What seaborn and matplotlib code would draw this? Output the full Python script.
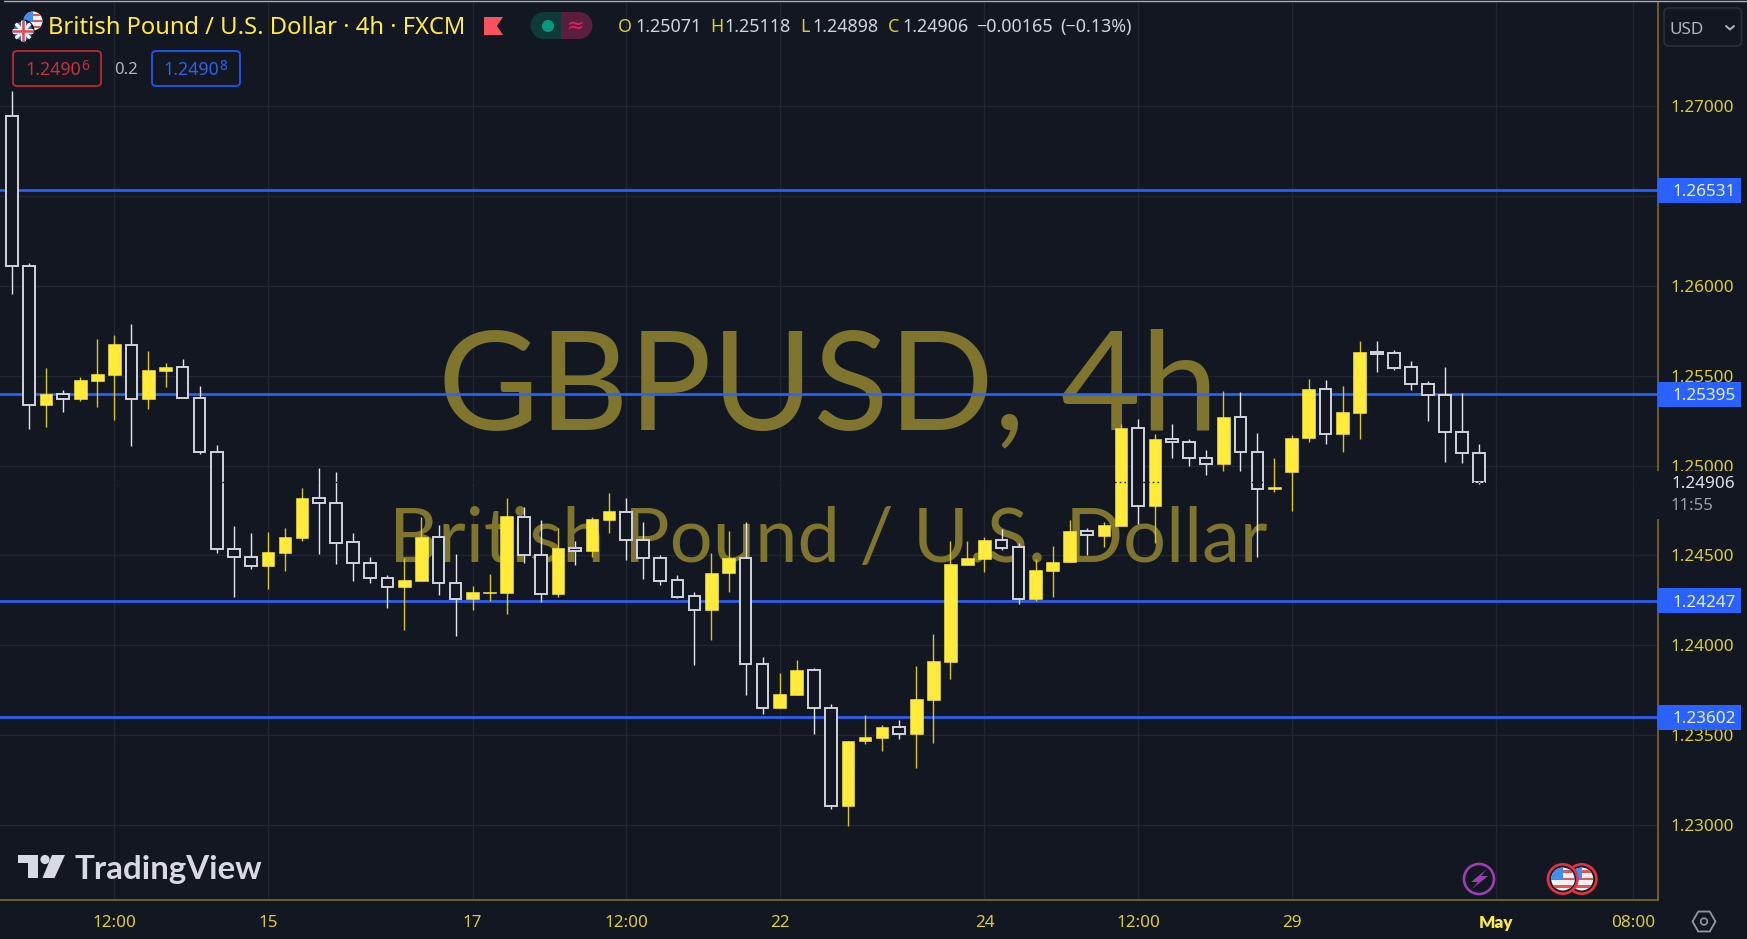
import numpy as np
import pandas as pd
import matplotlib
matplotlib.use("Agg")
import matplotlib.pyplot as plt
from matplotlib.patches import Circle, Rectangle, FancyBboxPatch, Polygon
from matplotlib.transforms import blended_transform_factory
import seaborn as sns

opens = [1.26944,1.26111,1.25334,1.25397,1.25368,1.25470,1.25503,1.25672,1.25368,1.25523,
         1.25548,1.25377,1.25077,1.24538,1.24491,1.24440,1.24516,1.24595,1.24819,1.24792,
         1.24575,1.24458,1.24377,1.24325,1.24360,1.24601,1.24349,1.24258,1.24291,1.24289,
         1.24716,1.24504,1.24284,1.24540,1.24523,1.24699,1.24743,1.24586,1.24486,1.24364,
         1.24273,1.24195,1.24401,1.24484,1.23899,1.23650,1.23724,1.23865,1.23654,1.23105,
         1.23467,1.23487,1.23545,1.23508,1.23698,1.23910,1.24447,1.24482,1.24586,1.24547,
         1.24256,1.24414,1.24462,1.24634,1.24610,1.24666,1.25207,1.24775,1.25147,1.25133,
         1.25044,1.25006,1.25268,1.25077,1.24869,1.24966,1.25151,1.25425,1.25177,1.25294,
         1.25631,1.25624,1.25548,1.25453,1.25390,1.25186,1.25071]
closes = [1.26111,1.25336,1.25399,1.25370,1.25473,1.25509,1.25674,1.25370,1.25529,1.25549,
          1.25375,1.25075,1.24536,1.24490,1.24441,1.24521,1.24603,1.24819,1.24790,1.24571,
          1.24456,1.24373,1.24327,1.24364,1.24604,1.24345,1.24260,1.24295,1.24295,1.24719,
          1.24503,1.24284,1.24541,1.24523,1.24705,1.24745,1.24586,1.24484,1.24360,1.24271,
          1.24197,1.24404,1.24486,1.23897,1.23650,1.23730,1.23865,1.23650,1.23107,1.23470,
          1.23491,1.23546,1.23509,1.23704,1.23913,1.24451,1.24486,1.24588,1.24543,1.24260,
          1.24419,1.24465,1.24636,1.24612,1.24669,1.25210,1.24777,1.25147,1.25129,1.25042,
          1.25008,1.25270,1.25075,1.24871,1.24880,1.25155,1.25425,1.25177,1.25297,1.25631,
          1.25620,1.25544,1.25451,1.25390,1.25186,1.25071,1.24906]
highs = [1.27083,1.26126,1.25544,1.25420,1.25494,1.25701,1.25727,1.25787,1.25638,1.25572,
         1.25590,1.25442,1.25112,1.24664,1.24623,1.24630,1.24651,1.24875,1.24984,1.24964,
         1.24623,1.24493,1.24391,1.24488,1.24716,1.24669,1.24508,1.24330,1.24397,1.24821,
         1.24768,1.24697,1.24651,1.24582,1.24712,1.24849,1.24821,1.24684,1.24501,1.24391,
         1.24297,1.24512,1.24636,1.24684,1.23934,1.23845,1.23919,1.23873,1.23674,1.23470,
         1.23613,1.23559,1.23585,1.23887,1.24063,1.24580,1.24582,1.24603,1.24649,1.24567,
         1.24480,1.24554,1.24697,1.24651,1.24684,1.25231,1.25257,1.25175,1.25231,1.25149,
         1.25084,1.25414,1.25407,1.25183,1.25040,1.25168,1.25481,1.25475,1.25442,1.25694,
         1.25694,1.25640,1.25583,1.25468,1.25549,1.25401,1.25118]
lows = [1.25953,1.25205,1.25216,1.25299,1.25359,1.25325,1.25251,1.25108,1.25312,1.25434,
        1.25375,1.25062,1.24516,1.24271,1.24427,1.24312,1.24414,1.24582,1.24508,1.24453,
        1.24358,1.24345,1.24210,1.24086,1.24360,1.24278,1.24052,1.24195,1.24249,1.24175,
        1.24460,1.24243,1.24271,1.24447,1.24493,1.24623,1.24475,1.24367,1.24338,1.24262,
        1.23889,1.24030,1.24297,1.23724,1.23617,1.23650,1.23724,1.23506,1.23093,1.22996,
        1.23452,1.23411,1.23480,1.23317,1.23459,1.23813,1.24447,1.24406,1.24528,1.24230,
        1.24249,1.24271,1.24462,1.24501,1.24549,1.24666,1.24673,1.24571,1.25040,1.24999,
        1.24945,1.24971,1.24971,1.24490,1.24855,1.24747,1.25129,1.25121,1.25073,1.25149,
        1.25518,1.25531,1.25422,1.25246,1.25020,1.25012,1.24898]

level_prices = [1.26531, 1.25395, 1.24247, 1.23602]
level_labels = ["1.26531", "1.25395", "1.24247", "1.23602"]
price_ticks = [1.23, 1.235, 1.24, 1.245, 1.25, 1.255, 1.26, 1.265, 1.27]
price_tick_labels = ["1.23000", "1.23500", "1.24000", "1.24500", "1.25000", "1.25500", "1.26000", "", "1.27000"]
time_positions = [6, 15, 27, 36, 45, 57, 66, 75, 87, 95]
time_labels = ["12:00", "15", "17", "12:00", "22", "24", "12:00", "29", "May", "08:00"]
last_price = 1.24906
countdown = "11:55"

BG = "#131722"
YELLOW = "#ffeb3b"
YWICK = "#d8c722"
WHITE = "#d1d4dc"
BLUE = "#2962ff"
OLIVE = "#7a6f1e"
GRID = "#222630"
TICK = "#d9cf2b"
WMARK = "#7f752e"
W, H = 1747, 939

sns.set_theme(style="dark", rc={"axes.facecolor": BG, "figure.facecolor": BG})
plt.rcParams["font.family"] = ["Noto Sans", "DejaVu Sans"]

df = pd.DataFrame({"i": np.arange(len(opens)), "o": opens, "h": highs, "l": lows, "c": closes})
df["up"] = df.c >= df.o
df["top"] = df[["o", "c"]].max(axis=1)
df["bot"] = df[["o", "c"]].min(axis=1)
wicks = df.melt(id_vars=["i", "up"], value_vars=["l", "h"], value_name="p")

fig = plt.figure(figsize=(W / 100, H / 100), dpi=100)
ax = fig.add_axes([0, 1 - 900 / H, 1658 / W, 898 / H])
ax.set_facecolor(BG)

for up, col in [(True, YWICK), (False, "#e4e6ec")]:
    sns.lineplot(data=wicks[wicks.up == up], x="i", y="p", units="i", estimator=None,
                 color=col, linewidth=1.0, legend=False, ax=ax, zorder=4,
                 solid_capstyle="butt")
u = df[df.up]
d = df[~df.up]
ax.bar(u.i, u.top - u.bot, bottom=u.bot, width=0.74, color=YELLOW, edgecolor=YELLOW,
       linewidth=0.4, zorder=5)
ax.bar(d.i, d.top - d.bot, bottom=d.bot, width=0.68, color=BG, edgecolor=WHITE,
       linewidth=1.4, zorder=5)

ax.set_xlabel("")
ax.set_ylabel("")
ax.grid(False)

ax.set_yticks(price_ticks)
ax.set_yticklabels(price_tick_labels)
ax.yaxis.tick_right()
ax.set_xticks(time_positions)
ax.set_xticklabels(time_labels)
ax.set_xlim(-0.703, 96.48)
ax.set_ylim(1.27 - 794.3 / 17990, 1.27 + 103.7 / 17990)
ax.tick_params(axis="y", length=0, pad=9.3, labelsize=12.3, labelcolor=TICK)
ax.tick_params(axis="x", length=0, pad=11, labelsize=12.3, labelcolor=TICK)
ax.grid(True, color=GRID, linewidth=1.0, zorder=0)
ax.set_axisbelow(True)
for lab in ax.get_xticklabels():
    if lab.get_text() == "May":
        lab.set_family("Lato")
        lab.set_fontweight("heavy")
        lab.set_color(YELLOW)
for s in ["top", "left"]:
    ax.spines[s].set_visible(False)
for s in ["right", "bottom"]:
    ax.spines[s].set_visible(True)
    ax.spines[s].set_color(OLIVE)
    ax.spines[s].set_linewidth(1.2)

tr = blended_transform_factory(ax.transAxes, ax.transData)

# watermark
ax.text(0.4995, 1.25203, "GBPUSD, 4h", transform=tr, ha="center", va="baseline", family="Lato",
        fontsize=99.7, color=WMARK, zorder=1)
ax.text(0.4995, 1.24465, "British Pound / U.S. Dollar", transform=tr, ha="center", va="baseline", family="Lato",
        fontsize=54.6, color=WMARK, zorder=1)

# horizontal levels and price line
for p in level_prices:
    ax.axhline(p, color=BLUE, linewidth=1.9, zorder=3)
ax.axhline(last_price, color=BG, linewidth=1.0, linestyle=(0, (1.2, 2.2)), zorder=6)

# axis price labels
for p, lab in zip(level_prices, level_labels):
    ax.add_patch(Rectangle((1.0, p - 12.5 / 17990), 83 / 1658, 25 / 17990, transform=tr,
                           facecolor=BLUE, edgecolor="none", clip_on=False, zorder=8))
    ax.text(1 + 14 / 1658, p - 2 / 17990, lab, transform=tr, color="#e8edff", fontsize=12.3, ha="left",
            va="center", clip_on=False, zorder=9)
ax.add_patch(Rectangle((0.9995, last_price - 36.5 / 17990), 84 / 1658, 48 / 17990, transform=tr,
                       facecolor=BG, edgecolor="none", clip_on=False, zorder=8))
ax.text(1 + 13 / 1658, last_price - 2 / 17990, f"{last_price:.5f}", transform=tr, color="#dfe1e8", fontsize=12.3,
        ha="left", va="center", clip_on=False, zorder=9)
ax.text(1 + 13 / 1658, last_price - 24 / 17990, countdown, transform=tr, color="#9ea1ab", fontsize=12,
        ha="left", va="center", clip_on=False, zorder=9)

# UI chrome in pixel coordinates
ui = fig.add_axes([0, 0, 1, 1], facecolor="none", zorder=10)
ui.set_xlim(0, W)
ui.set_ylim(H, 0)
ui.axis("off")

ui.plot([4, W], [1, 1], color="#a9acb5", lw=1.0)

def disc(cx, cy, r, **kw):
    kw.setdefault("edgecolor", "none")
    c = Circle((cx, cy), r, **kw)
    ui.add_patch(c)
    return c

def us_flag(cx, cy, r, ring=None):
    clip = disc(cx, cy, r, facecolor="#f2f3f5")
    for k in range(-2, 3, 2):
        a = ui.add_patch(Rectangle((cx - r, cy + k * r / 3.2 - r * 0.13), 2 * r, r * 0.26,
                                   facecolor="#ef4f56", edgecolor="none"))
        a.set_clip_path(clip)
    a = ui.add_patch(Rectangle((cx - r, cy - r), r, r, facecolor="#3f8ff0", edgecolor="none"))
    a.set_clip_path(clip)
    if ring:
        disc(cx, cy, r + 1.5, facecolor="none", edgecolor="#1b1d26", lw=1.2)
        disc(cx, cy, r + 3.2, facecolor="none", edgecolor=ring, lw=1.9)

# pair icons
us_flag(33, 21, 9.5)
clip = disc(23, 31, 10.5, facecolor="#3b6fb8", edgecolor=BG, lw=1.5)
for (x0, y0, x1, y1, c, lw) in [(13, 21, 33, 41, "#f3f3f5", 2.4), (13, 41, 33, 21, "#f3f3f5", 2.4),
                                (13, 31, 33, 31, "#f3f3f5", 3.6), (23, 21, 23, 41, "#f3f3f5", 3.6),
                                (13, 31, 33, 31, "#e8424b", 1.8), (23, 21, 23, 41, "#e8424b", 1.8)]:
    l, = ui.plot([x0, x1], [y0, y1], color=c, lw=lw)
    l.set_clip_path(clip)

ui.text(48, 28, "British Pound / U.S. Dollar · 4h · FXCM", color=YELLOW, fontsize=17.1,
        ha="left", va="center")
ui.add_patch(Polygon([(484, 17), (503, 17), (497, 26), (503, 35), (484, 35)], facecolor="#f7525f", edgecolor="none"))

# status pill
disc(544, 25.5, 13.5, facecolor="#0e3a3a")
ui.add_patch(Rectangle((544, 12), 17, 27, facecolor="#0e3a3a", edgecolor="none"))
ui.add_patch(Rectangle((561, 12), 18, 27, facecolor="#5a1f40", edgecolor="none"))
disc(579, 25.5, 13.5, facecolor="#5a1f40")
disc(548, 26, 6, facecolor="#089981")
ui.text(576, 25.5, "≈", color="#e91e63", fontsize=15, ha="center", va="center", family="DejaVu Sans")

# OHLC
for x, s, c in [(618, "O", TICK), (635, "1.25071", WHITE), (710, "H", TICK), (724, "1.25118", WHITE),
                (800, "L", TICK), (812, "1.24898", WHITE), (888, "C", TICK), (902, "1.24906", WHITE),
                (976, "−0.00165", WHITE), (1060, "(−0.13%)", WHITE)]:
    ui.text(x, 27, s, color=c, fontsize=12.9, ha="left", va="center")

# bid / ask
ui.add_patch(FancyBboxPatch((13, 51), 88, 35, boxstyle="round,pad=0,rounding_size=4", facecolor="none",
                            edgecolor="#b22833", lw=1.4))
ui.add_patch(FancyBboxPatch((152, 51), 88, 35, boxstyle="round,pad=0,rounding_size=4", facecolor="none",
                            edgecolor="#1e53e5", lw=1.4))
ui.text(25, 70, "1.2490", color="#c9303c", fontsize=12.8, ha="left", va="center")
ui.text(81, 66, "6", color="#c9303c", fontsize=10, ha="left", va="center")
ui.text(163, 70, "1.2490", color="#2a62e8", fontsize=12.8, ha="left", va="center")
ui.text(219, 66, "8", color="#2a62e8", fontsize=10, ha="left", va="center")
ui.text(114, 70, "0.2", color="#b2b5be", fontsize=12, ha="left", va="center")

# currency selector
ui.add_patch(FancyBboxPatch((1664, 8), 77.5, 38, boxstyle="round,pad=0,rounding_size=5", facecolor="none",
                            edgecolor="#2a2e39", lw=1.3))
ui.text(1670, 30, "USD", color="#b2b5be", fontsize=12.3, ha="left", va="center")
ui.plot([1726, 1730, 1734], [26, 29.5, 26], color="#b2b5be", lw=1.4)

# logo
ui.add_patch(Polygon([(18, 855), (38, 855), (38, 878), (28, 878), (28, 863), (18, 863)],
                     facecolor="#d8dae3", edgecolor="none"))
disc(45, 859.5, 4.6, facecolor="#d8dae3")
ui.add_patch(Polygon([(52, 855), (65, 855), (54.5, 878), (42.5, 878)], facecolor="#d8dae3", edgecolor="none"))
ui.text(75, 869, "TradingView", color="#d8dae3", fontsize=23.8, family="Lato", fontweight="bold",
        ha="left", va="center")

# event markers
disc(1479, 879, 15, facecolor="none", edgecolor="#9c3fb0", lw=1.9)
ui.add_patch(Polygon([(1487, 869), (1471, 882), (1478, 882), (1472, 889), (1488, 876), (1481, 876)],
                     facecolor="#9c3fb0", edgecolor="none"))
us_flag(1581.7, 879, 11.5, ring="#e5323f")
us_flag(1562.7, 879, 11.5, ring="#e5323f")

# settings
ang = np.deg2rad(np.arange(0, 360, 60))
ui.add_patch(Polygon(np.c_[1704 + 11.5 * np.cos(ang), 921.5 + 11.5 * np.sin(ang)], facecolor="none",
                     edgecolor="#9598a1", lw=1.3))
disc(1704, 921.5, 3.3, facecolor="none", edgecolor="#9598a1", lw=1.2)

fig.savefig("out.png", dpi=100, facecolor=BG)
